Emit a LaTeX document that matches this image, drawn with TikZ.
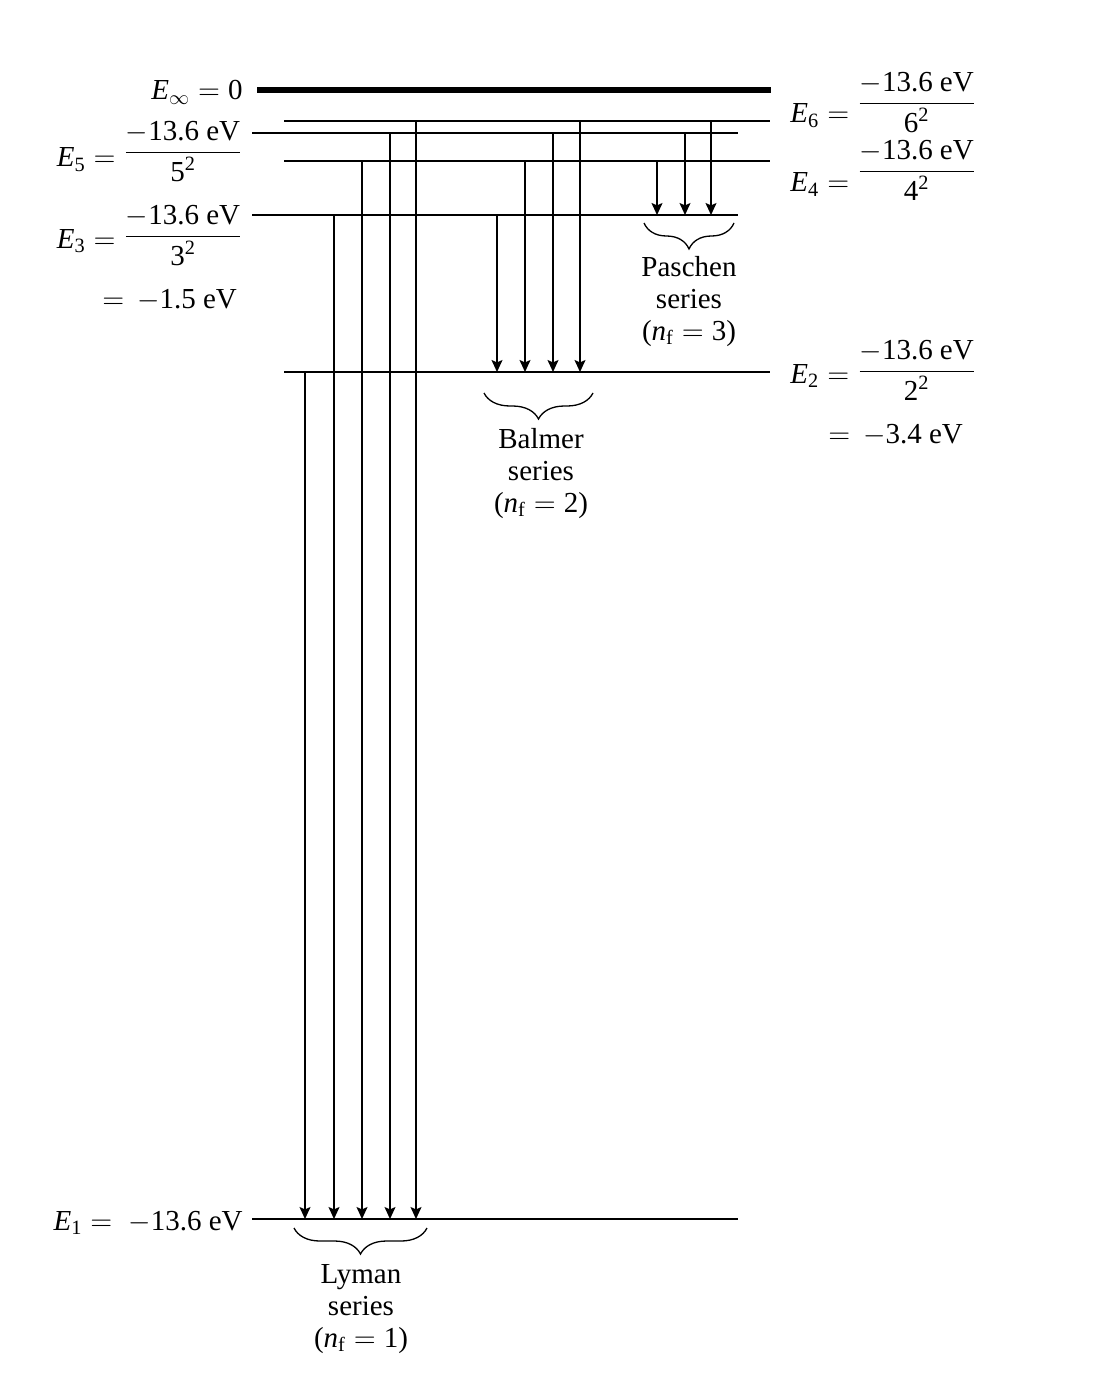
\documentclass[tikz,border=0pt]{standalone}
\usepackage{amsmath}
\usepackage{fontspec}
\setmainfont{Liberation Serif}
\usetikzlibrary{arrows.meta, positioning, calc, decorations.pathreplacing}

\newcommand{\lblfont}{\fontsize{14.5}{16}\selectfont}
\newcommand{\Elev}[2]{\raisebox{#1}{$\mathit{E}_{\text{#2}} = {}$}}
\newcommand{\Efrac}[1]{\dfrac{-\text{13.6 eV}}{\text{#1}^{\text{2}}}}

\begin{document}
\begin{tikzpicture}[x=0.5pt, y=-0.5pt,
    level/.style={line width=1.15pt},
    toplevel/.style={line width=3pt},
    trans/.style={line width=0.65pt, -{Stealth[length=6pt, width=5.5pt, inset=1.2pt]}},
    elab/.style={inner xsep=4.5pt, inner ysep=1pt, font=\lblfont},
    series/.style={align=center, inner sep=0pt, anchor=north, font=\lblfont},
    brc/.style={decorate, decoration={brace, mirror, amplitude=13pt}, line width=0.65pt}]
    \useasboundingbox (0,0) rectangle (1116,1396);

    % Level ends
    \coordinate (einf-l) at (257,90);  \coordinate (einf-r) at (771,90);
    \coordinate (e6-l) at (284,121);   \coordinate (e6-r) at (770,121);
    \coordinate (e5-r) at (738,133);
    \coordinate (e4-l) at (284,161);   \coordinate (e4-r) at (770,161);
    \coordinate (e3-r) at (738,215);
    \coordinate (e2-l) at (284,372);   \coordinate (e2-r) at (770,372);
    \coordinate (e1-r) at (738,1219);

    % Labels on the left
    \node[elab, anchor=base east] (Linf) at (252,100) {$\mathit{E}_\infty = \text{0}$};
    \node[elab, anchor=base east] (L5) at (252,160) {\Elev{-3.5pt}{5}$\Efrac{5}$};
    \node[elab, anchor=base east] (L3) at (252,244) {\Elev{-2.3pt}{3}$\Efrac{3}$};
    \node[elab, anchor=base west] (L3v) at (93,308) {$=\,-\text{1.5 eV}$};
    \node[elab, anchor=base east] (L1) at (252,1230)
        {$\mathit{E}_{\text{1}} = \;-\text{13.6 eV}$};

    % Labels on the right
    \node[elab, anchor=base west] (L6) at (781,111) {\Elev{-6pt}{6}$\Efrac{6}$};
    \node[elab, anchor=base west] (L4) at (781,179) {\Elev{-6.5pt}{4}$\Efrac{4}$};
    \node[elab, anchor=base west] (L2) at (781,379) {\Elev{-2.3pt}{2}$\Efrac{2}$};
    \node[elab, anchor=base west] (L2v) at (819,443) {$=\,-\text{3.4 eV}$};

    % Energy levels
    \draw[toplevel] (einf-l) -- (einf-r);
    \draw[level] (e6-l) -- (e6-r);
    \draw[level] (L5.east |- e5-r) -- (e5-r);
    \draw[level] (e4-l) -- (e4-r);
    \draw[level] (L3.east |- e3-r) -- (e3-r);
    \draw[level] (e2-l) -- (e2-r);
    \draw[level] (L1.east |- e1-r) -- (e1-r);

    % Lyman series
    \foreach \x/\lv in {305/e2-l, 334/e3-r, 362/e4-l, 390/e5-r, 416/e6-l} {
        \coordinate (col) at (\x,0);
        \draw[trans] (col |- \lv) -- (col |- e1-r);
    }
    % Balmer series
    \foreach \x/\lv in {497/e3-r, 525/e4-l, 553/e5-r, 580/e6-l} {
        \coordinate (col) at (\x,0);
        \draw[trans] (col |- \lv) -- (col |- e2-r);
    }
    % Paschen series
    \foreach \x/\lv in {657/e4-l, 685/e5-r, 711/e6-l} {
        \coordinate (col) at (\x,0);
        \draw[trans] (col |- \lv) -- (col |- e3-r);
    }

    % Braces and series names
    \draw[brc] (294,1228) -- (427,1228);
    \node[series] (lyman) at (361,1264) {Lyman\\series\\($\mathit{n}_{\text{f}} = \text{1}$)};
    \draw[brc] (484,393) -- (593,393);
    \node[series] (balmer) at (541,428) {Balmer\\series\\($\mathit{n}_{\text{f}} = \text{2}$)};
    \draw[brc] (644,223) -- (734,223);
    \node[series] (paschen) at (689,256) {Paschen\\series\\($\mathit{n}_{\text{f}} = \text{3}$)};
\end{tikzpicture}
\end{document}
